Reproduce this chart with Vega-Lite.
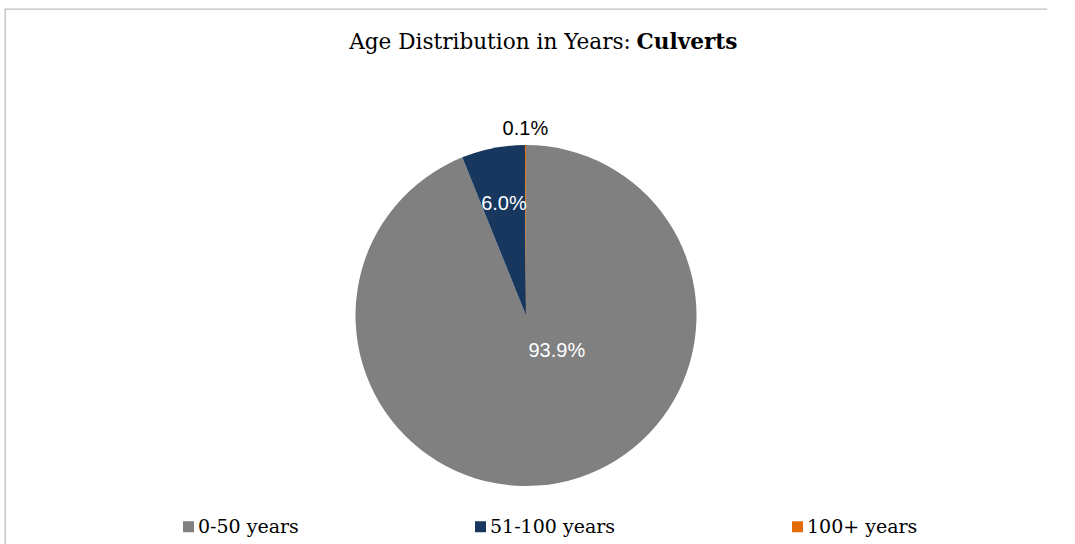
{
  "$schema": "https://vega.github.io/schema/vega-lite/v6.json",
  "autosize": {"type": "none"},
  "width": 1042,
  "height": 613,
  "padding": {"left": 5, "top": 9, "right": 28, "bottom": -78},
  "background": "white",
  "view": {"stroke": "#bfbfbf", "strokeWidth": 1.3, "strokeDash": [1042, 1655, 613], "fill": "white"},
  "title": {
    "text": "Age Distribution in Years:",
    "subtitle": "Culverts",
    "font": "DejaVu Serif",
    "fontSize": 21.6,
    "fontWeight": "normal",
    "color": "black",
    "subtitleFont": "DejaVu Serif",
    "subtitleFontSize": 21.6,
    "subtitleFontWeight": "bold",
    "subtitleColor": "black",
    "subtitlePadding": -21.6,
    "anchor": "middle",
    "frame": "group",
    "dx": 161,
    "dy": 49,
    "encoding": {"dx": {"value": -36}}
  },
  "data": {
    "values": [
      {"cat": "0-50 years", "value": 0.939},
      {"cat": "51-100 years", "value": 0.06},
      {"cat": "100+ years", "value": 0.001}
    ]
  },
  "encoding": {
    "theta": {"field": "value", "type": "quantitative", "stack": true},
    "order": {"field": "value", "type": "quantitative", "sort": "descending"}
  },
  "layer": [
    {
      "mark": {"type": "arc", "outerRadius": 170.5},
      "encoding": {
        "color": {
          "field": "cat",
          "type": "nominal",
          "scale": {
            "domain": ["0-50 years", "51-100 years", "100+ years"],
            "range": ["#808080", "#17375e", "#e36c09"]
          },
          "legend": {
            "orient": "none",
            "legendX": 174,
            "legendY": 508,
            "direction": "horizontal",
            "title": null
          }
        }
      }
    },
    {
      "mark": {"type": "text", "radius": 36, "dx": 24, "font": "Liberation Sans", "fontSize": 20, "fill": "white", "align": "center", "baseline": "middle"},
      "encoding": {
        "detail": {"field": "cat"},
        "text": {"condition": {"test": "datum.cat === '0-50 years'", "field": "value", "format": ".1%"}, "value": ""}
      }
    },
    {
      "mark": {"type": "text", "radius": 114, "font": "Liberation Sans", "fontSize": 20, "fill": "white", "align": "center", "baseline": "middle"},
      "encoding": {
        "detail": {"field": "cat"},
        "text": {"condition": {"test": "datum.cat === '51-100 years'", "field": "value", "format": ".1%"}, "value": ""}
      }
    },
    {
      "mark": {"type": "text", "radius": 187, "font": "Liberation Sans", "fontSize": 20, "fill": "black", "align": "center", "baseline": "middle"},
      "encoding": {
        "detail": {"field": "cat"},
        "text": {"condition": {"test": "datum.cat === '100+ years'", "field": "value", "format": ".1%"}, "value": ""}
      }
    }
  ],
  "config": {
    "legend": {
      "symbolType": "square",
      "symbolSize": 121,
      "symbolStrokeWidth": 0,
      "labelFont": "DejaVu Serif",
      "labelFontSize": 19,
      "labelColor": "black",
      "columnPadding": 172,
      "labelOffset": 0,
      "padding": 0,
      "labelLimit": 400
    }
  }
}
